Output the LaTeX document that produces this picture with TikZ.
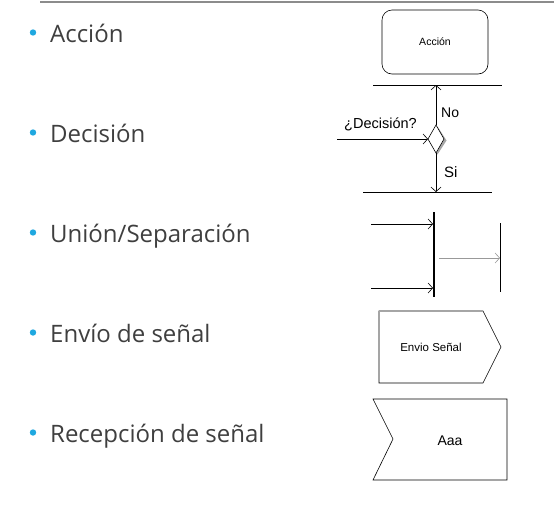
\documentclass[tikz,border=0pt]{standalone}
\usepackage{fontspec}
\setmainfont{Open Sans}
\newfontfamily\arialf{Liberation Sans}
\usetikzlibrary{arrows.meta}
\definecolor{bulletblue}{HTML}{1FA8E0}
\definecolor{txtgray}{HTML}{3F3F3F}
\begin{document}
\begin{tikzpicture}[x=1pt,y=-1pt,
  item/.style={anchor=base west,inner sep=0pt,text=txtgray,font=\fontsize{24}{28}\selectfont},
  bul/.style={fill=bulletblue,draw=none},
  small/.style={inner sep=0pt,font=\arialf\fontsize{#1}{#1}\selectfont},
  thin/.style={draw=black,line width=0.6pt},
  arr/.style={thin,-{Straight Barb[length=4.5pt,width=10pt,line width=0.6pt]}}
]
\useasboundingbox (0,0) rectangle (554,504);
% top rule
\draw[color=gray!90,line width=1.2pt] (40,2) -- (554,2);
% bullets and items
\foreach \y/\t in {42/{Acción},142/{Decisión},242/{Unión/Separación},342/{Envío de señal},442/{Recepción de señal}}{
  \fill[bul] (33,\y-9.5) circle (3.2);
  \node[item] at (50,\y) {\t};
}
% Accion
\node[draw,thin,rounded corners=10pt,minimum width=106pt,minimum height=64pt,small=10.5] (acc) at (435,42) {Acción};
% Decision
\coordinate (l1a) at (373,85);
\coordinate (l1b) at (502,85);
\draw[thin] (l1a) -- (l1b);
\coordinate (l2a) at (363,192);
\coordinate (l2b) at (492,192);
\draw[thin] (l2a) -- (l2b);
\fill[gray!70] (437.5,126.5) -- (446.5,140.5) -- (437.5,154.5) -- (428.5,140.5) -- cycle;
\draw[thin,fill=white] (436,125) -- (444,139) -- (436,153) -- (428,139) -- cycle;
\coordinate (dtop) at (436,125);
\coordinate (dbot) at (436,153);
\coordinate (dleft) at (428,139);
\coordinate (up) at (436,85);
\coordinate (down) at (436,192);
\coordinate (inl) at (337,139);
\draw[arr] (dtop) -- (up);
\draw[arr] (dbot) -- (down);
\draw[arr] (inl) -- (dleft);
\node[small=14.5,anchor=south west] (dq) at (344,131) {¿Decisión?};
\node[small=14,anchor=west] (no) at (441,113) {No};
\node[small=15,anchor=west] (si) at (444,172) {Si};
% Union / separacion
\coordinate (bt) at (434,212);
\coordinate (bb) at (434,297);
\draw[line width=2.6pt] (bt) -- (bb);
\coordinate (i1) at (371,224);
\coordinate (i1e) at (433,224);
\coordinate (i2) at (371,288);
\coordinate (i2e) at (433,288);
\draw[arr] (i1) -- (i1e);
\draw[arr] (i2) -- (i2e);
\coordinate (o1) at (439,258);
\coordinate (o1e) at (500,258);
\draw[arr,draw=gray!80] (o1) -- (o1e);
\coordinate (vt) at (500,223);
\coordinate (vb) at (500,292);
\draw[thin] (vt) -- (vb);
% Envio senal
\draw[thin] (379,311) -- (483,311) -- (501,347) -- (483,383) -- (379,383) -- cycle;
\draw[gray!70,line width=0.8pt] (379,311) -- (483,311);
\node[small=11.5] (env) at (431,347) {Envio Señal};
% Recepcion
\draw[thin] (373,399) -- (507,399) -- (507,480) -- (373,480) -- (393,439) -- cycle;
\node[small=14] (aaa) at (450,441) {Aaa};
\end{tikzpicture}
\end{document}
